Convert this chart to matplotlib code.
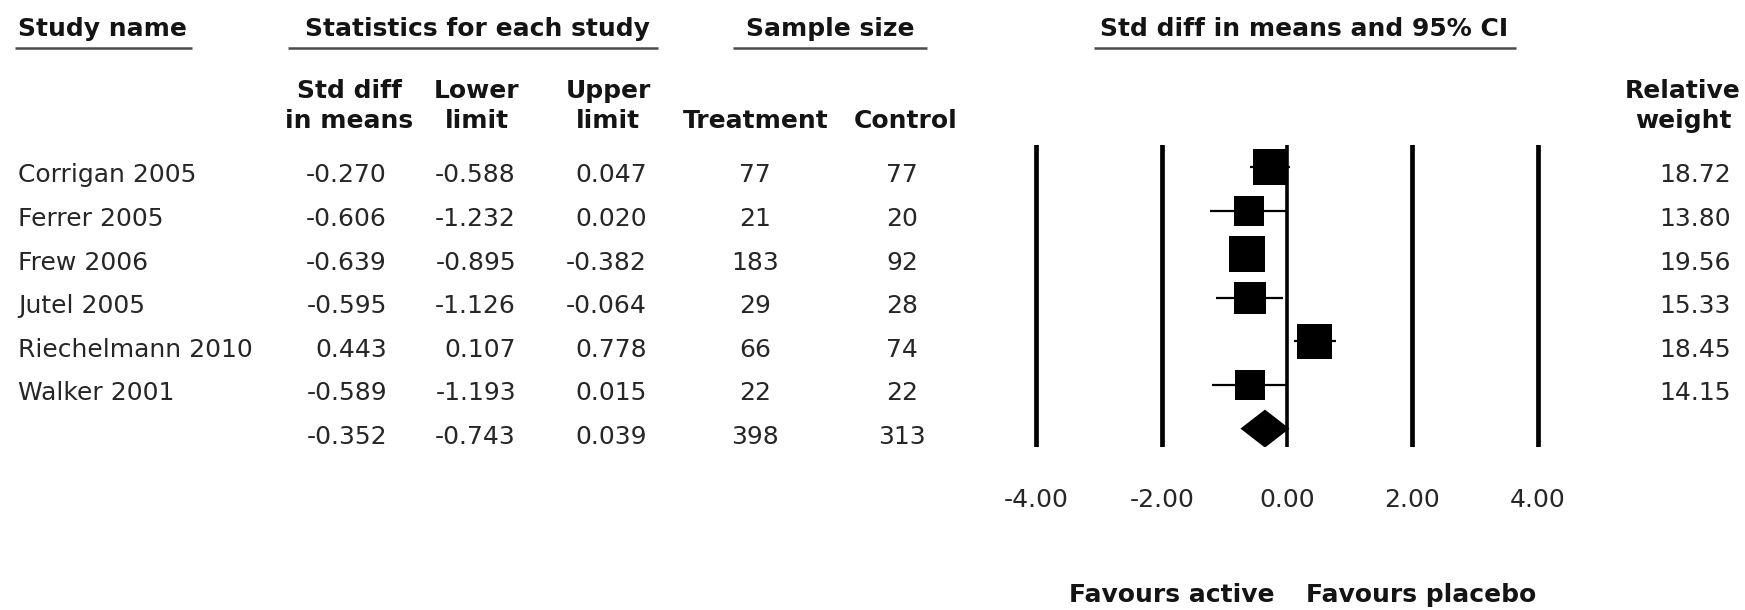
import matplotlib

matplotlib.use("Agg")
import matplotlib.pyplot as plt  # noqa: E402
import matplotlib.transforms as mtransforms  # noqa: E402
import numpy as np  # noqa: E402

# data
studies = ["Corrigan 2005", "Ferrer 2005", "Frew 2006", "Jutel 2005",
           "Riechelmann 2010", "Walker 2001"]
std_diff = [-0.270, -0.606, -0.639, -0.595, 0.443, -0.589]
lower_limit = [-0.588, -1.232, -0.895, -1.126, 0.107, -1.193]
upper_limit = [0.047, 0.020, -0.382, -0.064, 0.778, 0.015]
treatment_n = [77, 21, 183, 29, 66, 22]
control_n = [77, 20, 92, 28, 74, 22]
rel_weight = [18.72, 13.80, 19.56, 15.33, 18.45, 14.15]

summary_diff = -0.352
summary_lower = -0.743
summary_upper = 0.039
summary_treatment = 398
summary_control = 313

x_ticks = [-4.0, -2.0, 0.0, 2.0, 4.0]

# layout (pixels of the 1745x610 canvas)
W, H = 1745, 610
ROW0, ROW_H = 167.0, 43.6
ZERO_PX, UNIT_PX = 1287.0, 62.65
TOP_PX, BOT_PX = 145.0, 447.0
FS = 18
DATA_C = "#262626"
HEAD_C = "#141414"

plt.rcParams["font.family"] = ["DejaVu Sans"]


def row_of(px):
    return (px - ROW0) / ROW_H


fig = plt.figure(figsize=(W / 100, H / 100), dpi=100)
ax = fig.add_axes([0, 0, 1, 1])
ax.set_xlim(0, W)
ax.set_ylim(row_of(H), row_of(0))
ax.axis("off")

# text baselines sit a little below the marker centres
row_tr = mtransforms.offset_copy(ax.transData, fig=fig, x=0, y=-15.5, units="dots")

# top headers with underlines
heads = [
    ("Study name", 18, "left", (15, 192)),
    ("Statistics for each study", 477, "center", (288, 658)),
    ("Sample size", 830, "center", (733, 927)),
    ("Std diff in means and 95% CI", 1304, "center", (1094, 1516)),
]
for label, x, ha, (x0, x1) in heads:
    ax.text(x, row_of(36), label, ha=ha, va="baseline", fontsize=FS,
            fontweight="bold", color=HEAD_C)
    ax.plot([x0, x1], [row_of(48), row_of(48)], color="#4a4a4a", lw=1.8,
            solid_capstyle="butt")

# column sub headers
subheads = [
    (("Std diff", "in means"), 349),
    (("Lower", "limit"), 477),
    (("Upper", "limit"), 608),
    (("", "Treatment"), 756),
    (("", "Control"), 906),
    (("Relative", "weight"), 1683),
]
for (l1, l2), x in subheads:
    ax.text(x, row_of(98), l1, ha="center", va="baseline", fontsize=FS,
            fontweight="bold", color=HEAD_C)
    ax.text(x, row_of(128), l2, ha="center", va="baseline", fontsize=FS,
            fontweight="bold", color=HEAD_C)

# table body
rows = np.arange(len(studies))
kw = dict(va="baseline", fontsize=FS, color=DATA_C, transform=row_tr)
for i in rows:
    ax.text(18, i, studies[i], ha="left", **kw)
    ax.text(387, i, f"{std_diff[i]:.3f}", ha="right", **kw)
    ax.text(516, i, f"{lower_limit[i]:.3f}", ha="right", **kw)
    ax.text(647, i, f"{upper_limit[i]:.3f}", ha="right", **kw)
    ax.text(755, i, f"{treatment_n[i]}", ha="center", **kw)
    ax.text(902, i, f"{control_n[i]}", ha="center", **kw)
    ax.text(1731, i, f"{rel_weight[i]:.2f}", ha="right", **kw)

s_row = len(studies)
ax.text(387, s_row, f"{summary_diff:.3f}", ha="right", **kw)
ax.text(516, s_row, f"{summary_lower:.3f}", ha="right", **kw)
ax.text(647, s_row, f"{summary_upper:.3f}", ha="right", **kw)
ax.text(755, s_row, f"{summary_treatment}", ha="center", **kw)
ax.text(902, s_row, f"{summary_control}", ha="center", **kw)

ax.text(1275, row_of(602), "Favours active", ha="right", va="baseline",
        fontsize=FS, fontweight="bold", color=HEAD_C)
ax.text(1306, row_of(602), "Favours placebo", ha="left", va="baseline",
        fontsize=FS, fontweight="bold", color=HEAD_C)

# forest panel
axf = fig.add_axes([(ZERO_PX - 4.5 * UNIT_PX) / W, 1 - BOT_PX / H,
                    9 * UNIT_PX / W, (BOT_PX - TOP_PX) / H])
axf.set_xlim(-4.5, 4.5)
axf.set_ylim(row_of(BOT_PX), row_of(TOP_PX))
axf.patch.set_alpha(0)
for sp in axf.spines.values():
    sp.set_visible(False)

for t in x_ticks:
    axf.axvline(t, color="black", lw=2.6 if t == 0 else 3.4, zorder=1)

axf.hlines(rows, lower_limit, upper_limit, color="black", lw=1.6, zorder=2)
axf.scatter(std_diff, rows, marker="s", s=34 * np.array(rel_weight),
            color="black", linewidths=0, zorder=3)

hh = 19 / ROW_H
axf.fill([summary_lower, summary_diff, summary_upper, summary_diff],
         [s_row, s_row - hh, s_row, s_row + hh], color="black", lw=0, zorder=3)

axf.set_xticks(x_ticks, labels=[f"{t:.2f}" for t in x_ticks])
axf.set_yticks([])
axf.tick_params(axis="x", length=0, pad=29.5, labelsize=FS, labelcolor=DATA_C)

fig.savefig("out.png", dpi=100)
plt.close(fig)
